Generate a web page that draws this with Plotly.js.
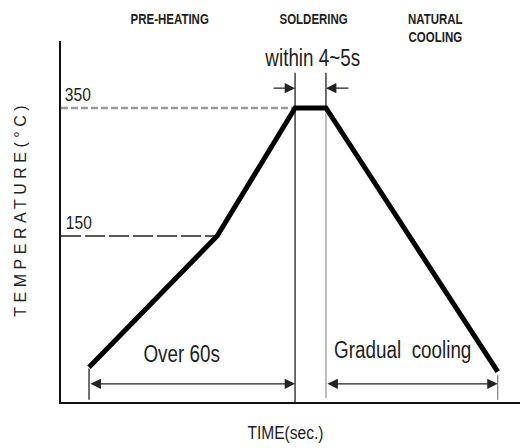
<!DOCTYPE html>
<html>
<head>
<meta charset="utf-8">
<script src="https://cdn.plot.ly/plotly-3.0.1.min.js"></script>
<style>
  html, body { margin: 0; padding: 0; background: #fff; }
  #chart { width: 520px; height: 448px; }
  .annotation[data-index="0"] text { letter-spacing: 4.5px; }
  .annotation:not([data-index="0"]) .annotation-text {
    transform: scaleX(0.82); transform-box: fill-box; transform-origin: center;
  }
</style>
</head>
<body>
<div id="chart"></div>
<script>
// ---- data ----
const profileTime = [0, 37.3, 60, 69, 119];      // seconds (schematic)
const profileTemp = [-55, 150, 350, 350, -62];   // °C (schematic)
const refTemps = [150, 350];
const refLabels = ['150', '350'];
const phaseLabels = ['PRE-HEATING', 'SOLDERING', 'NATURAL<br>COOLING'];
const phaseCenters = [23.5, 65.4, 101];
const solderStart = 60;
const solderEnd = 69;
const spanLabels = ['within 4~5s', 'Over 60s', 'Gradual  cooling'];
const xTitle = 'TIME(sec.)';
const yTitle = 'TEMPERATURE(°C)';

const FONT = "'Liberation Sans', Arial, sans-serif";
const TXT = '#1e1e1e';

const xRange = [-8.16, 125.5];
const yRange = [-109.4, 454.7];

const traces = [
  // 350 guide (grey dashed)
  { x: [xRange[0], solderStart], y: [refTemps[1], refTemps[1]], mode: 'lines',
    line: { color: '#9a9a9a', width: 2.5, dash: '7px,3px' }, hoverinfo: 'skip' },
  // 150 guide (black dashed)
  { x: [xRange[0], profileTime[1]], y: [refTemps[0], refTemps[0]], mode: 'lines',
    line: { color: '#222', width: 1.5, dash: '20px,4px' }, hoverinfo: 'skip' },
  // vertical at solder start
  { x: [solderStart, solderStart], y: [405, yRange[0]], mode: 'lines',
    line: { color: '#222', width: 1.3 }, hoverinfo: 'skip' },
  // vertical at solder end (upper part black)
  { x: [solderEnd, solderEnd], y: [405, 350], mode: 'lines',
    line: { color: '#222', width: 1.3 }, hoverinfo: 'skip' },
  // vertical at solder end (lower part grey)
  { x: [solderEnd, solderEnd], y: [350, -103], mode: 'lines',
    line: { color: '#999', width: 1.3 }, hoverinfo: 'skip' },
  // tick at start
  { x: [profileTime[0], profileTime[0]], y: [-57, -106], mode: 'lines',
    line: { color: '#222', width: 1.3 }, hoverinfo: 'skip' },
  // tick at end
  { x: [profileTime[4], profileTime[4]], y: [-67, -106], mode: 'lines',
    line: { color: '#888', width: 1.3 }, hoverinfo: 'skip' },
  // profile curve
  { x: profileTime, y: profileTemp, mode: 'lines',
    line: { color: '#000', width: 5 }, hoverinfo: 'skip' }
];

function arrow(xHead, yHead, xTail, yTail, both, color) {
  return {
    x: xHead, y: yHead, ax: xTail, ay: yTail, xref: 'x', yref: 'y', axref: 'x', ayref: 'y',
    text: '', showarrow: true, arrowhead: 2, arrowsize: 1.6, arrowwidth: 1.3,
    arrowcolor: color || '#222', arrowside: both ? 'end+start' : 'end', standoff: 0, startstandoff: 0
  };
}

const annotations = [
  // y title (index 0, letter-spaced via CSS)
  { text: yTitle, xref: 'paper', yref: 'paper', x: -0.087, y: 0.535, xanchor: 'center', yanchor: 'middle',
    textangle: -90, showarrow: false, font: { family: FONT, size: 16, color: TXT } },
  // x title
  { text: xTitle, xref: 'x', yref: 'paper', x: (285 - 89) / 3.433, y: -0.085, xanchor: 'center', yanchor: 'middle',
    showarrow: false, font: { family: FONT, size: 19, color: TXT } },
  // reference labels
  { text: refLabels[1], x: xRange[0], y: refTemps[1], xanchor: 'left', yanchor: 'bottom', xshift: -1, yshift: 1,
    showarrow: false, font: { family: FONT, size: 19, color: TXT } },
  { text: refLabels[0], x: xRange[0], y: refTemps[0], xanchor: 'left', yanchor: 'bottom', xshift: 0, yshift: 1,
    showarrow: false, font: { family: FONT, size: 19, color: TXT } },
  // span labels
  { text: spanLabels[0], x: (solderStart + solderEnd) / 2 + 0.5, y: 428, xanchor: 'center', yanchor: 'middle',
    showarrow: false, font: { family: FONT, size: 23, color: TXT } },
  { text: spanLabels[1], x: 26.8, y: -34, xanchor: 'center', yanchor: 'middle',
    showarrow: false, font: { family: FONT, size: 23, color: TXT } },
  { text: spanLabels[2], x: 91.5, y: -28, xanchor: 'center', yanchor: 'middle',
    showarrow: false, font: { family: FONT, size: 23, color: TXT } },
  // arrows
  arrow(solderStart, 381, 53.3, 381, false),
  arrow(solderEnd, 381, 76, 381, false),
  arrow(solderStart, -81, profileTime[0], -81, true),
  arrow(profileTime[4], -81, solderEnd, -81, true)
];

const phaseY = [1.061, 1.061, 1.036];
phaseLabels.forEach((t, i) => {
  annotations.push({ text: '<b>' + t + '</b>', xref: 'x', yref: 'paper', x: phaseCenters[i], y: phaseY[i],
    xanchor: 'center', yanchor: 'middle',
    showarrow: false, font: { family: FONT, size: 14, color: TXT } });
});

const layout = {
  width: 520, height: 448,
  margin: { l: 61, r: 0, t: 41, b: 46, pad: 0 },
  paper_bgcolor: '#fff', plot_bgcolor: '#fff',
  showlegend: false,
  xaxis: { range: xRange, showgrid: false, zeroline: false, showticklabels: false, ticks: '',
    showline: true, linecolor: '#111', linewidth: 2, fixedrange: true },
  yaxis: { range: yRange, showgrid: false, zeroline: false, showticklabels: false, ticks: '',
    showline: true, linecolor: '#111', linewidth: 2, fixedrange: true },
  annotations: annotations
};

Plotly.newPlot('chart', traces, layout, { staticPlot: true, displayModeBar: false });
</script>
</body>
</html>
